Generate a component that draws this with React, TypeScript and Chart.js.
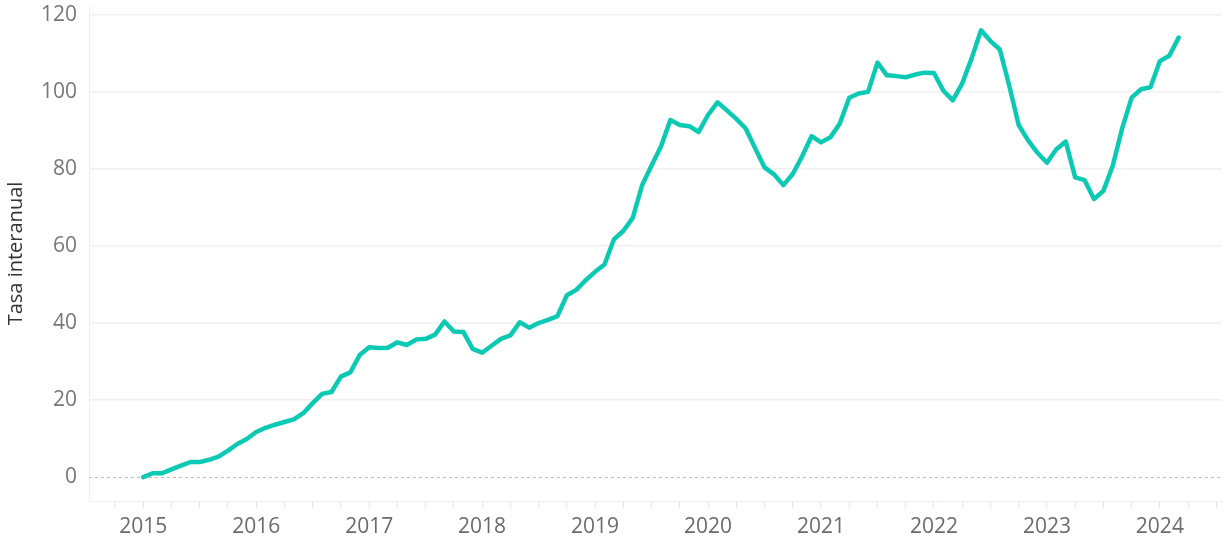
import React, { useEffect, useRef } from "react";
import { Chart, registerables } from "chart.js";

Chart.register(...registerables);

const startYear = 2015;
const years = ["2015", "2016", "2017", "2018", "2019", "2020", "2021", "2022", "2023", "2024"];
const yTickValues = [0, 20, 40, 60, 80, 100, 120];
const axisTitle = "Tasa interanual";

// Tasa interanual, monthly values Jan 2015 .. Mar 2024
const values2015 = [0.0, 1.0, 1.0, 2.0, 3.0, 3.9, 3.9, 4.5, 5.3, 6.9, 8.6, 9.9];
const values2016 = [11.7, 12.8, 13.6, 14.3, 15.0, 16.6, 19.2, 21.6, 22.1, 26.1, 27.2, 31.7];
const values2017 = [33.7, 33.5, 33.6, 35.0, 34.3, 35.7, 35.9, 37.0, 40.4, 37.8, 37.7, 33.3];
const values2018 = [32.3, 34.1, 35.9, 36.8, 40.2, 38.8, 40.0, 40.8, 41.8, 47.2, 48.6, 51.1];
const values2019 = [53.3, 55.2, 61.7, 63.9, 67.3, 75.8, 80.9, 85.8, 92.7, 91.4, 91.1, 89.6];
const values2020 = [94.0, 97.3, 95.2, 93.0, 90.5, 85.4, 80.4, 78.6, 75.8, 78.7, 83.3, 88.5];
const values2021 = [86.9, 88.2, 91.8, 98.5, 99.6, 100.0, 107.6, 104.3, 104.1, 103.8, 104.5, 105.0];
const values2022 = [104.9, 100.3, 97.8, 102.2, 108.7, 116.0, 113.2, 111.0, 101.6, 91.4, 87.4, 84.2];
const values2023 = [81.6, 85.1, 87.1, 77.8, 77.1, 72.2, 74.3, 80.9, 90.6, 98.5, 100.7, 101.2];
const values2024 = [108.0, 109.4, 114.1];

const allValues = [
  ...values2015, ...values2016, ...values2017, ...values2018, ...values2019,
  ...values2020, ...values2021, ...values2022, ...values2023, ...values2024,
];

const zeroLinePlugin = {
  id: "zeroLine",
  beforeDatasetsDraw(chart: any) {
    const { ctx, chartArea, scales } = chart;
    const y = Math.round(scales.y.getPixelForValue(0)) + 0.5;
    ctx.save();
    ctx.strokeStyle = "#bdbdbd";
    ctx.lineWidth = 1;
    ctx.setLineDash([3, 3]);
    ctx.beginPath();
    ctx.moveTo(chartArea.left, y);
    ctx.lineTo(chartArea.right, y);
    ctx.stroke();
    ctx.restore();
  },
};

export default function App() {
  const canvasRef = useRef<HTMLCanvasElement | null>(null);

  useEffect(() => {
    document.body.style.margin = "0";
    const canvas = canvasRef.current;
    if (!canvas) return;
    const points = allValues.map((v, i) => ({ x: startYear + i / 12, y: v }));
    const tickFont = { family: "'Open Sans', sans-serif", size: 21 };
    const chart = new Chart(canvas, {
      type: "line",
      data: {
        datasets: [
          {
            data: points,
            borderColor: "#0bcab3",
            borderWidth: 4.5,
            pointRadius: 0,
            tension: 0,
            borderJoinStyle: "round",
            borderCapStyle: "round",
          },
        ],
      },
      options: {
        animation: false,
        responsive: false,
        maintainAspectRatio: false,
        layout: { padding: { top: 6, right: 3, left: 4, bottom: 0 } },
        plugins: { legend: { display: false }, tooltip: { enabled: false } },
        scales: {
          x: {
            type: "linear",
            min: 2014.52,
            max: 2024.55,
            afterBuildTicks: (axis: any) => {
              const t: any[] = [];
              for (let q = 2014.75; q <= 2024.5 + 1e-6; q += 0.25) t.push({ value: q });
              axis.ticks = t;
            },
            afterFit: (axis: any) => {
              axis.paddingLeft = 0;
              axis.paddingRight = 0;
              axis.height = 35;
            },
            ticks: {
              autoSkip: false,
              maxRotation: 0,
              color: "#6b6b6b",
              font: tickFont,
              padding: 7,
              callback: (v: any) => {
                const n = Number(v);
                if (Math.abs(n - Math.round(n)) < 1e-6) {
                  const idx = Math.round(n) - startYear;
                  return years[idx] ?? "";
                }
                return "";
              },
            },
            grid: {
              drawOnChartArea: false,
              drawTicks: true,
              tickLength: 6,
              color: "#e2e2e2",
            },
            border: { display: true, color: "#eeeeee", width: 1 },
          },
          y: {
            type: "linear",
            min: -6.2,
            max: 122.3,
            afterBuildTicks: (axis: any) => {
              axis.ticks = yTickValues.map((v) => ({ value: v }));
            },
            afterFit: (axis: any) => {
              axis.paddingTop = 0;
              axis.paddingBottom = 0;
              axis.width = 85;
            },
            ticks: {
              color: "#777777",
              font: tickFont,
              padding: 12,
            },
            grid: {
              drawTicks: false,
              color: (c: any) => (c.tick && c.tick.value === 0 ? "rgba(0,0,0,0)" : "#f0f0f0"),
              lineWidth: 1.5,
            },
            border: { display: true, color: "#eeeeee", width: 1 },
            title: {
              display: true,
              text: axisTitle,
              color: "#333333",
              font: { family: "'Open Sans', sans-serif", size: 20 },
              padding: { top: 0, bottom: 0 },
            },
          },
        },
      },
      plugins: [zeroLinePlugin],
    });
    return () => chart.destroy();
  }, []);

  return (
    <div style={{ width: 1225, height: 536, background: "#ffffff" }}>
      <canvas ref={canvasRef} width={1225} height={536} style={{ display: "block" }} />
    </div>
  );
}
